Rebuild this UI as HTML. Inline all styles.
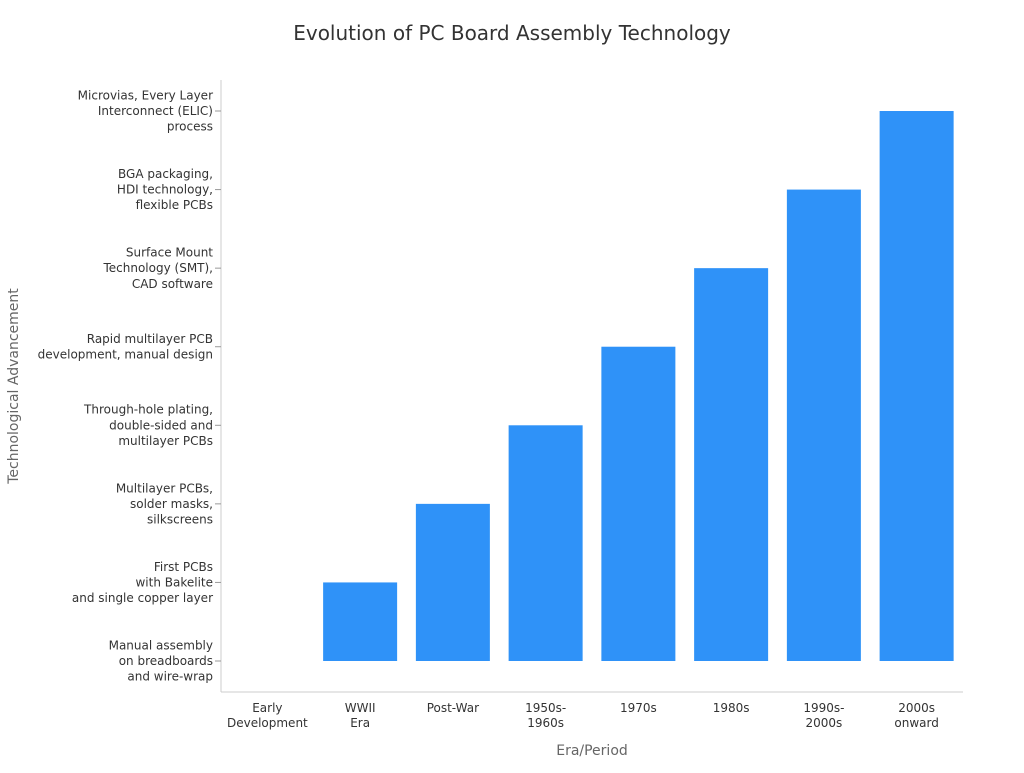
<!DOCTYPE html>
<html><head><meta charset="utf-8"><style>
body{margin:0;background:#fff;width:1024px;height:768px;overflow:hidden}
text{font-family:"DejaVu Sans","Liberation Sans",sans-serif}
</style></head><body>
<svg id="chart" width="1024" height="768" xmlns="http://www.w3.org/2000/svg">
<text x="512" y="40" text-anchor="middle" font-size="20" fill="#333">Evolution of PC Board Assembly Technology</text>
<g id="plot"></g>
<text x="592" y="755" text-anchor="middle" font-size="14" fill="#666">Era/Period</text>
<text transform="translate(18,386) rotate(-90)" text-anchor="middle" font-size="14" fill="#666">Technological Advancement</text>
</svg>
<script>
const categories=[["Early","Development"],["WWII","Era"],["Post-War"],["1950s-","1960s"],["1970s"],["1980s"],["1990s-","2000s"],["2000s","onward"]];
const values=[0,1,2,3,4,5,6,7];
const yTickLabels=[["Manual assembly","on breadboards","and wire-wrap"],["First PCBs","with Bakelite","and single copper layer"],["Multilayer PCBs,","solder masks,","silkscreens"],["Through-hole plating,","double-sided and","multilayer PCBs"],["Rapid multilayer PCB","development, manual design"],["Surface Mount","Technology (SMT),","CAD software"],["BGA packaging,","HDI technology,","flexible PCBs"],["Microvias, Every Layer","Interconnect (ELIC)","process"]];
const NS="http://www.w3.org/2000/svg";
const g=document.getElementById('plot');
const L=221,R=963,T=80,B=692;
const band=(R-L)/categories.length;
const xC=i=>L+band*(i+0.5);
const yS=v=>661-v*78.57;
function mk(tag,attrs){const e=document.createElementNS(NS,tag);for(const k in attrs)e.setAttribute(k,attrs[k]);g.appendChild(e);return e;}
let a=mk('line',{x1:L,y1:T,x2:L,y2:B,stroke:'#ccc'});


a=mk('line',{x1:L,y1:B,x2:R,y2:B,stroke:'#ccc'});


values.forEach((v,i)=>{
  if(v>0){
    const r=mk('rect',{x:xC(i)-37,y:yS(v),width:74,height:yS(0)-yS(v),fill:'#2f92f8'});
    
    
  }
});
categories.forEach((lines,i)=>{
  const t=mk('text',{x:xC(i),y:712,'text-anchor':'middle','font-size':12,fill:'#333'});
  
  
  lines.forEach((s,j)=>{const ts=document.createElementNS(NS,'tspan');ts.setAttribute('x',xC(i));ts.setAttribute('dy',j?15:0);ts.textContent=s;t.appendChild(ts);});
});
yTickLabels.forEach((lines,i)=>{
  const y=yS(i);
  const tk=mk('line',{x1:L-6,y1:y,x2:L,y2:y,stroke:'#999'});
  
  
  const n=lines.length;
  const t=mk('text',{x:213,y:y-(n-1)*7.8+4,'text-anchor':'end','font-size':12,fill:'#333'});
  
  
  lines.forEach((s,j)=>{const ts=document.createElementNS(NS,'tspan');ts.setAttribute('x',213);ts.setAttribute('dy',j?15.6:0);ts.textContent=s;t.appendChild(ts);});
});
</script>
</body></html>
